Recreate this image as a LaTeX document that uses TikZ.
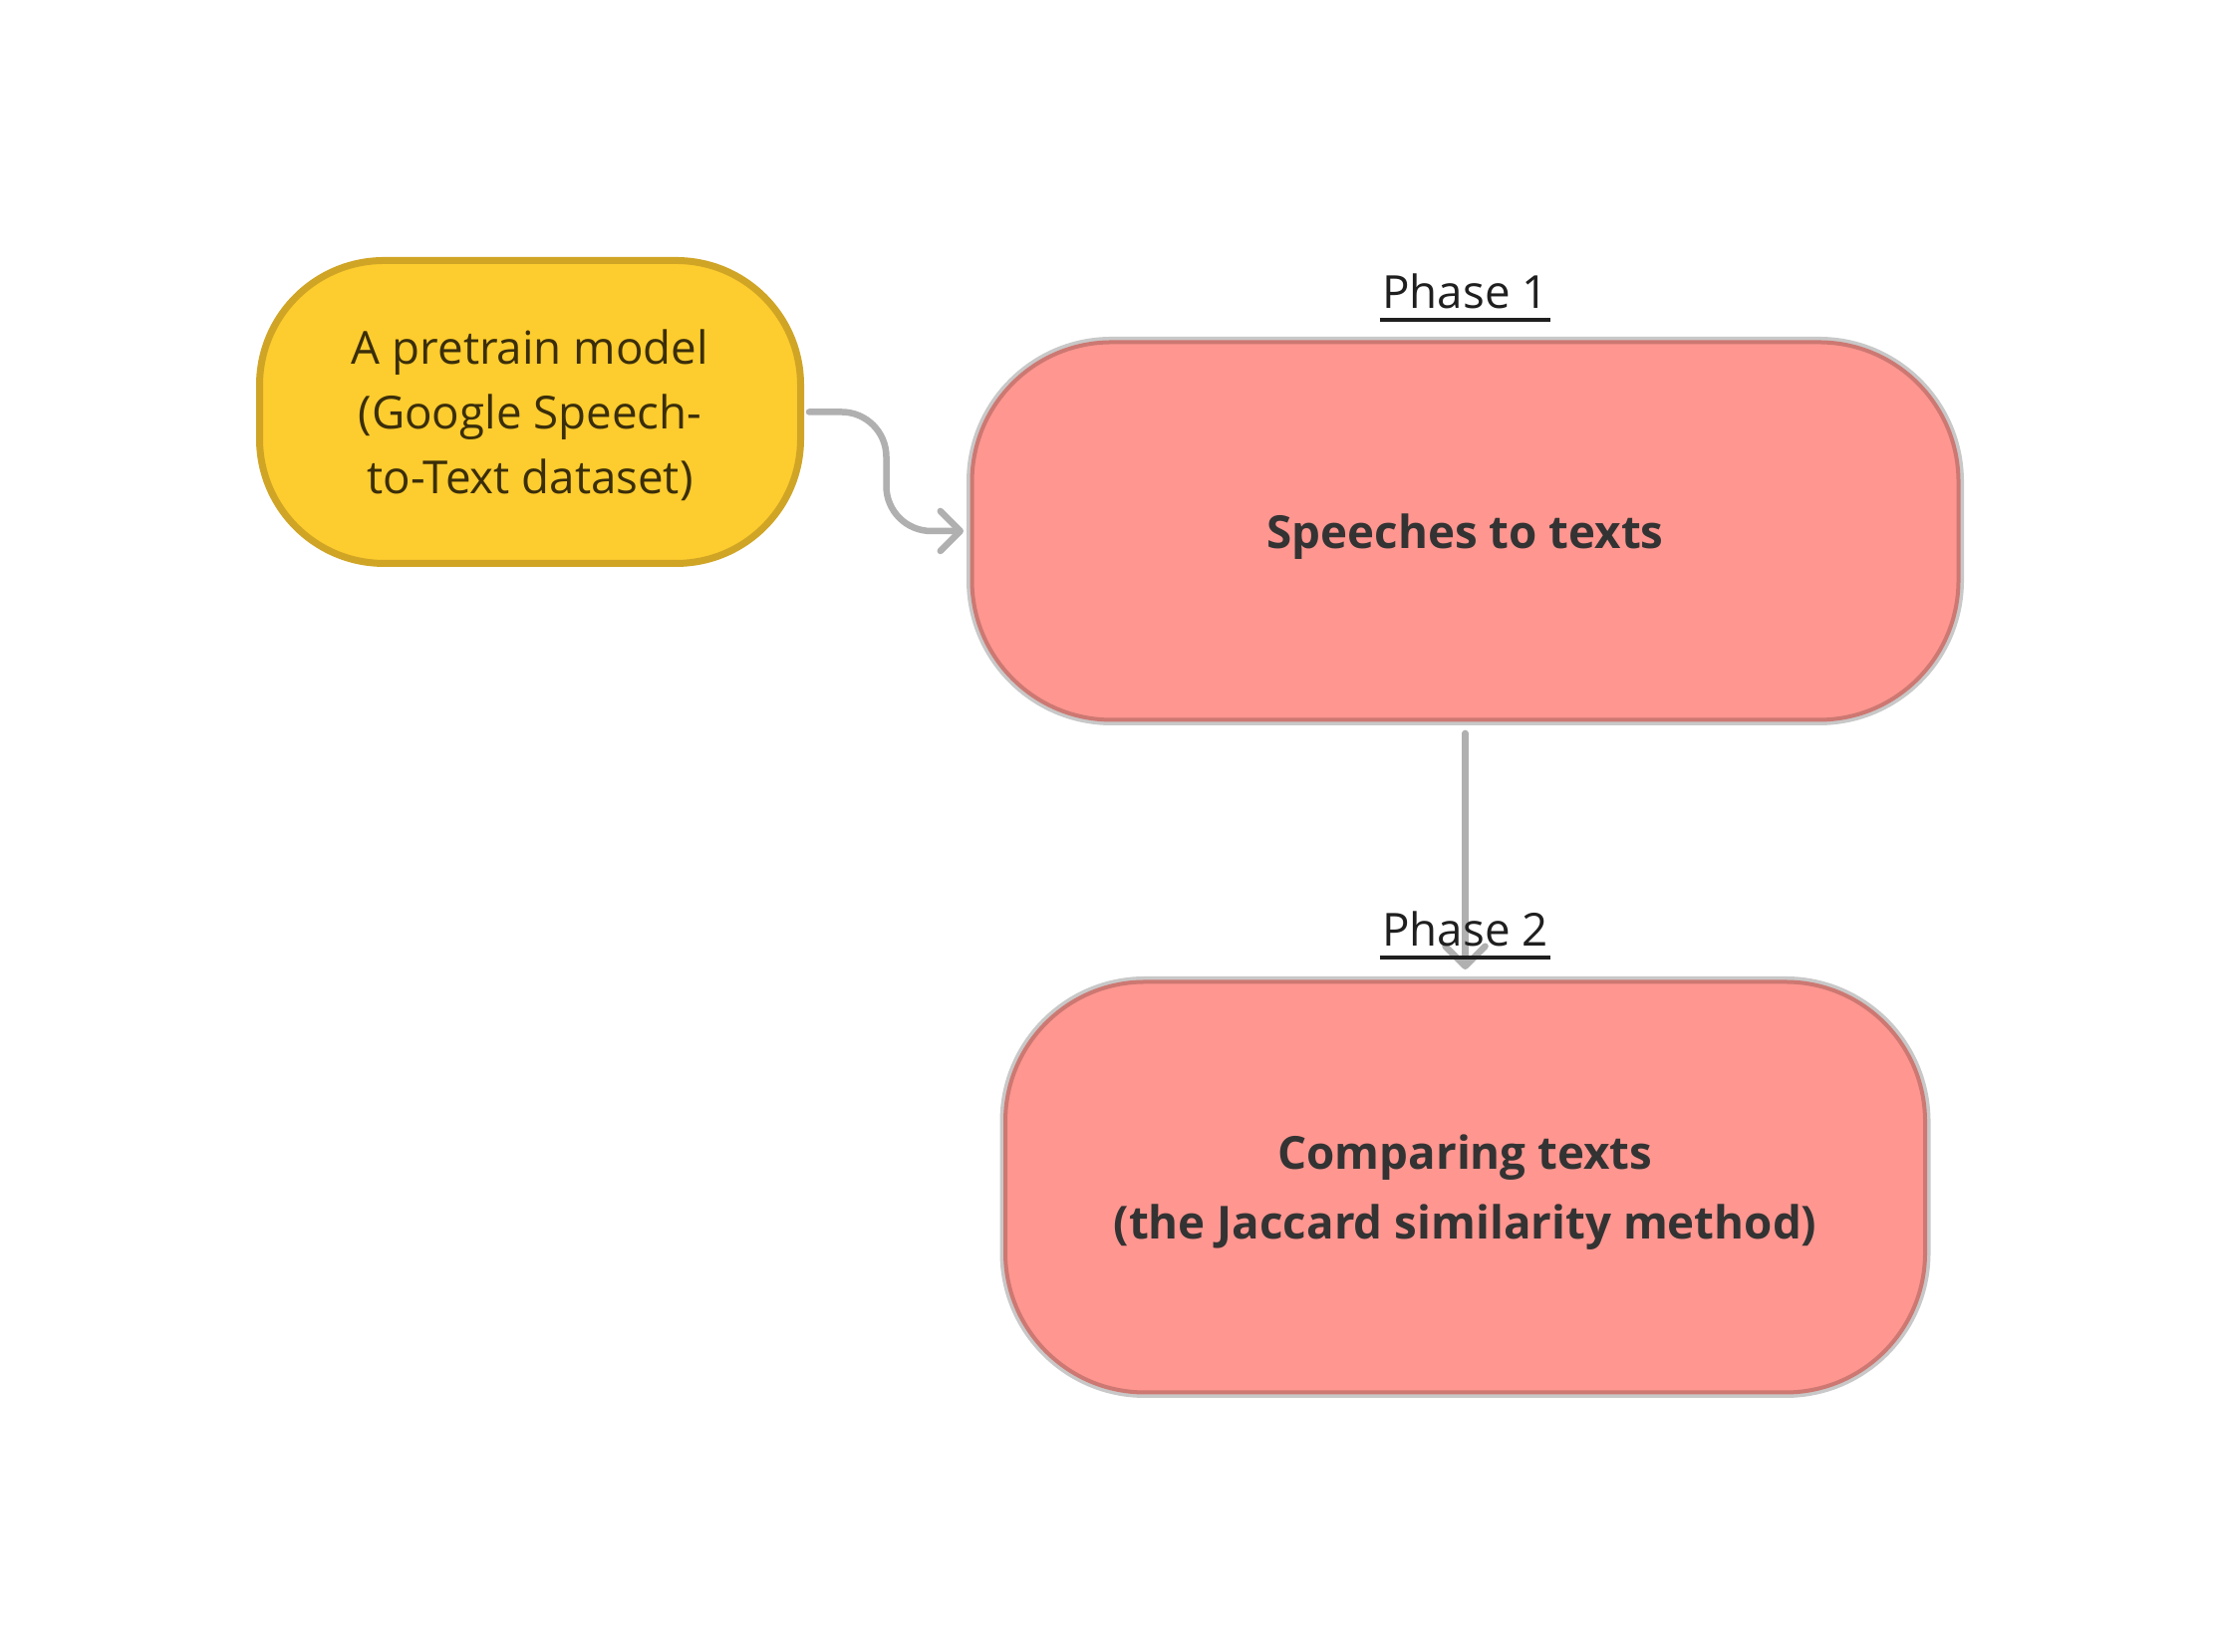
\documentclass[tikz,border=0pt]{standalone}
\usepackage{fontspec}
\setsansfont{Open Sans}
\usetikzlibrary{positioning, arrows.meta, calc}

\definecolor{modelfill}{RGB}{253,204,46}
\definecolor{modelline}{RGB}{208,165,38}
\definecolor{modeltext}{RGB}{58,46,10}
\definecolor{stagefill}{RGB}{255,150,144}
\definecolor{stageline}{RGB}{205,120,114}
\definecolor{stageedge}{RGB}{200,200,200}
\definecolor{arrowgrey}{RGB}{176,176,176}
\definecolor{textdark}{RGB}{51,51,51}

\begin{document}
\begin{tikzpicture}[
  node distance=2.63cm and 1.72cm,
  every node/.style={font=\sffamily\fontsize{13}{18.5}\selectfont},
  model/.style={draw=modelline, line width=0.07cm, fill=modelfill, rounded corners=1.25cm, outer sep=0pt, minimum width=5.43cm, minimum height=3.04cm, text depth=0pt, align=center, text=modeltext},
  stage/.style={draw=stageline, line width=0.04cm, fill=stagefill, rounded corners=1.4cm, outer sep=0pt, preaction={draw=stageedge, line width=0.11cm}, text depth=0pt, align=center, text=textdark, font=\sffamily\bfseries\fontsize{13}{20}\selectfont},
  phase/.style={inner sep=0pt, anchor=base, text=black!88},
  uline/.style={line width=0.04cm, black!88},
  arrow/.style={draw=arrowgrey, line width=0.065cm, line cap=round, rounded corners=0.45cm, -{Straight Barb[length=0.2cm, width=0.4cm, line cap=round, line join=round]}}
]
\fill[white] (0,0) rectangle (22.26,16.58);
\useasboundingbox (0,0) rectangle (22.26,16.58);

% Pretrained model
\node[model] (model) at (5.32,12.445) {A pretrain model\\(Google Speech-\\to-Text dataset)};

% Phases
\node[stage, minimum width=9.90cm, minimum height=3.79cm, right=of model, yshift=-1.195cm] (speech) {Speeches to texts};
\node[stage, minimum width=9.23cm, minimum height=4.12cm, below=of speech] (compare) {Comparing texts\\(the Jaccard similarity method)};

% Arrows
\draw[arrow, shorten <=0.085cm, shorten >=0.085cm] (model.east) -- ++(0.86,0) |- (speech.west);
\draw[arrow, shorten <=0.135cm, shorten >=0.125cm] (speech.south) -- (compare.north);

% Phase labels
\node[phase] (ph1) at ([yshift=0.335cm]speech.north) {Phase 1};
\node[phase] (ph2) at ([yshift=0.355cm]compare.north) {Phase 2};
\draw[uline] ([xshift=-0.02cm, yshift=-0.11cm]ph1.base west) -- ([xshift=0.02cm, yshift=-0.11cm]ph1.base east);
\draw[uline] ([xshift=-0.02cm, yshift=-0.11cm]ph2.base west) -- ([xshift=0.02cm, yshift=-0.11cm]ph2.base east);

\end{tikzpicture}
\end{document}
